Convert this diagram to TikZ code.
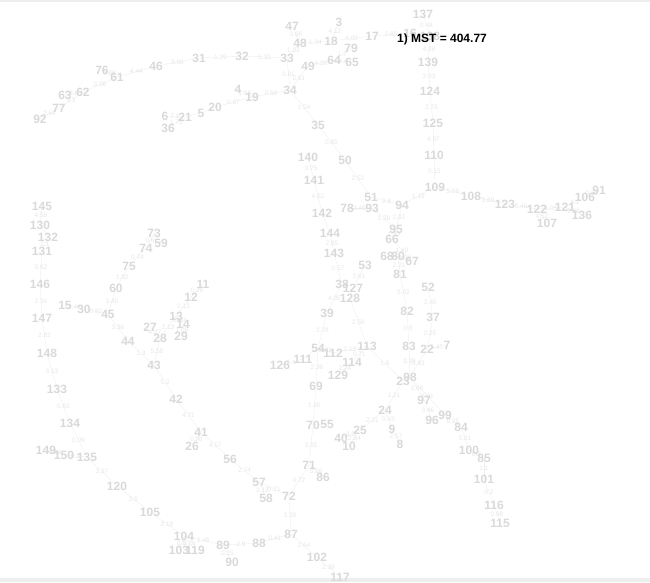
\documentclass[tikz,border=0pt]{standalone}
\usepackage{fontspec}
\setmainfont{Liberation Sans}
\usetikzlibrary{backgrounds}
\definecolor{nodegray}{HTML}{D9D9D9}
\definecolor{wtgray}{HTML}{E6E6E6}
\definecolor{edgegray}{HTML}{EEEEEE}
\definecolor{framegray}{HTML}{EEEEEE}
\begin{document}
\begin{tikzpicture}[x=1pt,y=-1pt,
  lbl/.style={font=\bfseries\fontsize{12}{12}\selectfont, text=nodegray, inner sep=0pt},
  wt/.style={font=\fontsize{6.5}{6.5}\selectfont, text=wtgray, inner sep=0pt},
  edgeline/.style={draw=edgegray, line width=0.4pt},
  titlestyle/.style={font=\bfseries\fontsize{12}{12}\selectfont, text=black, inner sep=0pt}]
\useasboundingbox (0,0) rectangle (650,582);
\fill[framegray] (0,0) rectangle (650,1.5);
\fill[framegray] (0,578) rectangle (650,582);
\foreach \n/\x/\y in {3/339/22,4/238/89,5/201/113,6/165/116,7/447/345,8/400/444,9/392/429,10/349/446,
 11/203/284,12/191/297,13/176/316,14/183/324,15/65/305,16/410/33,17/372/36,18/331/41,19/252/97,20/215/107,
 21/185/117,22/427/349,23/403/381,24/385/410,25/360/430,26/192/446,27/150/327,28/160/338,29/181/336,30/84/309,
 31/199/58,32/242/56,33/287/58,34/290/90,35/318/125,36/168/128,37/433/317,38/342/284,39/327/313,40/341/438,
 41/201/432,42/176/399,43/154/365,44/128/341,45/108/314,46/156/66,47/292/26,48/300/43,49/308/66,50/345/160,
 51/371/197,52/428/287,53/365/265,54/318/348,55/327/424,56/230/459,57/259/482,58/266/498,59/161/243,60/116/288,
 61/117/77,62/83/92,63/65/95,64/334/60,65/352/62,66/392/239,67/412/261,68/387/256,69/316/386,70/313/425,
 71/309/465,72/289/496,73/154/233,74/146/248,75/129/266,76/102/70,77/59/108,78/347/208,79/351/48,80/398/256,
 81/400/274,82/407/311,83/409/346,84/461/427,85/484/458,86/323/477,87/291/534,88/259/543,89/223/545,90/232/562,
 91/599/190,92/40/119,93/372/208,94/402/205,95/396/229,96/432/420,97/424/400,98/410/377,99/445/415,100/469/450,
 101/484/479,102/317/557,103/179/550,104/184/536,105/150/512,106/585/197,107/547/223,108/471/196,109/435/187,110/434/155,
 111/303/359,112/333/353,113/367/346,114/352/362,115/500/523,116/494/505,117/340/577,119/195/550,120/117/486,
 121/565/207,122/537/209,123/505/204,124/430/91,125/433/123,126/280/365,127/353/288,128/350/298,129/338/375,130/40/225,
 131/42/251,132/48/237,133/57/389,134/70/423,135/87/457,136/582/215,137/423/14,138/430/36,139/428/62,140/308/157,
 141/314/180,142/322/213,143/334/253,144/330/233,145/42/206,146/40/284,147/42/318,148/47/353,149/46/450,150/64/455}
 \node[lbl] (n\n) at (\x,\y) {\n};
\begin{scope}[on background layer]
\foreach \a/\b/\w in {92/77/2.54,77/62/3.3,63/62/2.6,62/61/3.06,76/61/0.88,61/46/4.44,46/31/3.66,31/32/1.29,
 32/33/5.33,33/48/1.03,47/48/0.66,48/18/1.34,18/3/4.12,18/17/4.03,17/16/2.85,138/137/0.48,138/139/4.28,
 139/124/3.93,124/125/2.73,125/110/4.87,110/109/0.15,109/108/5.56,109/94/1.19,108/123/3.89,123/122/5.46,
 122/121/1.05,122/107/4.52,121/106/4.1,106/91/0.31,121/136/1.26,33/34/0.81,34/49/2.91,49/64/4.26,64/65/2.4,
 64/79/1.7,34/19/0.56,19/4/1.58,19/20/0.87,6/21/7.1,21/36/1.75,34/35/1.54,35/50/0.85,50/51/2.52,51/94/3.8,
 94/95/2.82,95/93/1.38,93/78/2.45,95/66/1.39,66/67/1.49,67/80/2.06,80/81/2.21,81/82/5.02,82/83/0.8,83/98/3.38,
 98/22/3.83,22/37/0.25,37/52/2.45,22/7/5.47,140/141/3.75,141/142/4.62,144/143/2.85,143/38/0.57,53/127/3.61,
 38/39/4.05,128/113/2.56,39/54/2.78,54/69/2.36,54/112/2.31,112/113/2.13,113/114/0.71,114/129/2.24,126/111/1.1,
 113/23/1.8,23/24/1.21,98/97/3.66,98/99/3.01,97/96/3.46,99/84/0.25,84/100/0.01,100/85/0.3,85/101/1.1,
 101/116/0.2,116/115/0.98,24/25/2.21,24/9/0.43,9/8/2.57,25/40/2.2,25/10/2.84,69/70/1.66,70/71/3.05,71/86/3.28,
 71/72/0.72,57/72/0.21,57/58/2.12,56/57/2.74,41/56/4.57,42/41/4.71,41/26/0.98,43/42/5.2,44/43/1.3,45/44/3.36,
 30/45/0.82,15/30/1.49,45/60/3.45,60/75/1.82,75/74/0.74,74/73/0.6,28/43/5.58,27/28/4.37,13/28/2.13,13/14/0.89,
 14/29/1.08,12/13/0.13,11/12/0.28,145/130/4.58,132/131/2.1,131/146/0.62,146/147/2.34,147/148/2.82,148/133/3.13,
 133/134/0.63,134/135/0.09,149/150/0.34,150/135/0.2,135/120/3.37,120/105/2.5,105/104/2.19,104/103/0.3,
 104/119/0.26,104/89/1.46,89/88/2.9,89/90/0.25,88/87/0.41,87/72/3.39,87/102/2.64,102/117/2.39}
 \draw[edgeline] (n\a.center) -- node[wt]{\w} (n\b.center);
\foreach \a/\b in {21/5,5/20,127/128,144/142,68/80,55/70,111/54,130/132,73/59}
 \draw[edgeline] (n\a.center) -- (n\b.center);
\end{scope}
\node[titlestyle] (title) at (442,39) {1) MST = 404.77};
\end{tikzpicture}
\end{document}
